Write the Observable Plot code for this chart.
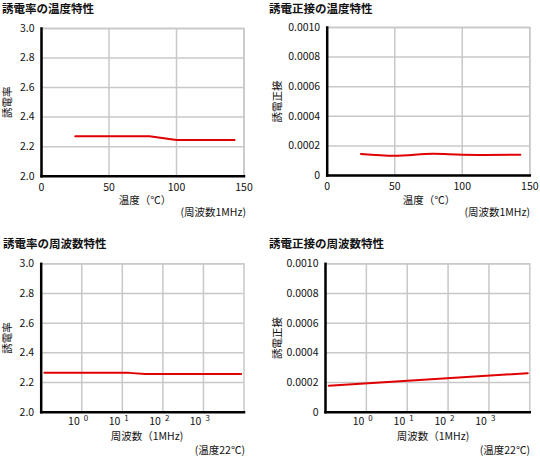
<!DOCTYPE html>
<html><head><meta charset="utf-8">
<script src="https://cdn.jsdelivr.net/npm/d3@7"></script>
<script src="https://cdn.jsdelivr.net/npm/@observablehq/plot@0.6"></script>
<style>
html,body{margin:0;padding:0;background:#fff;}
#root{position:relative;width:540px;height:457px;font-family:"Noto Sans CJK JP","DejaVu Sans",sans-serif;color:#111;}
.t{position:absolute;white-space:nowrap;line-height:1;}
.title{font-weight:bold;font-size:11.5px;}
.lab{font-size:10.5px;}
.panel{position:absolute;}
</style></head>
<body><div id="root"></div>
<script>
// ---- data ----
const titles = ["誘電率の温度特性", "誘電正接の温度特性", "誘電率の周波数特性", "誘電正接の周波数特性"];
const yLabelDk = "誘電率";
const yLabelDf = "誘電正接";
const xLabelTemp = "温度（℃）";
const xLabelFreq = "周波数（1MHz)";
const noteTemp = "(周波数1MHz)";
const noteFreq = "(温度22℃)";

const tempTicks = [0, 50, 100, 150];
const dkTicks = [2.0, 2.2, 2.4, 2.6, 2.8, 3.0];
const dfTicks = [0, 0.0002, 0.0004, 0.0006, 0.0008, 0.0010];
const freqTicks = [1, 10, 100, 1000];
const freqDomain = [0.1, 10000];

const tempDk = [25, 80, 100, 143];
const dkTemp = [2.27, 2.27, 2.245, 2.245];

const tempDf = [25, 50, 78, 100, 143];
const dfTemp = [0.000145, 0.000133, 0.000147, 0.00014, 0.00014];

const freqDk = [0.12, 14.5, 37, 8500];
const dkFreq = [2.265, 2.265, 2.258, 2.258];

const freqDf = [0.12, 8900];
const dfFreq = [0.000178, 0.000263];

// ---- drawing ----
const root = document.getElementById("root");
const FONT = "'Noto Sans CJK JP','DejaVu Sans',sans-serif";
const RED = "#e00000", GRID = "#c8c8c8";

function addText(txt, cls, left, top, align) {
  const d = document.createElement("div");
  d.className = "t " + cls;
  d.textContent = txt;
  d.style.top = top + "px";
  if (align === "right") d.style.right = (540 - left) + "px";
  else if (align === "center") { d.style.left = left + "px"; d.style.transform = "translateX(-50%)"; }
  else d.style.left = left + "px";
  root.appendChild(d);
}

function panel({left, top, margins, xs, ys, xOpt, yOpt, xTicks, yTicks, xFmt, yFmt, yLabel, curve, logX}) {
  const data = xs.map((x, i) => ({x, y: ys[i]}));
  const xAxisMarks = logX
    ? [
        Plot.text(xTicks, {x: d => d, frameAnchor: "bottom", text: () => "10", textAnchor: "end", dx: -2, dy: 13, fill: "#111"}),
        Plot.text(xTicks, {x: d => d, frameAnchor: "bottom", text: d => String(Math.round(Math.log10(d))), textAnchor: "start", dx: 2, dy: 9, fontSize: 8, fill: "#111"})
      ]
    : [Plot.axisX(xTicks, {tickSize: 0, tickPadding: 7, tickFormat: xFmt, label: null, fill: "#111"})];
  const p = Plot.plot({
    width: 270, height: 228,
    marginLeft: margins[0], marginRight: margins[1], marginTop: margins[2], marginBottom: margins[3],
    style: {fontFamily: FONT, fontSize: "10.5px", color: "#111", background: "none", overflow: "visible"},
    x: {...xOpt, axis: null}, y: yOpt,
    marks: [
      Plot.gridX(xTicks, {stroke: GRID, strokeOpacity: 1, strokeWidth: 1.5}),
      Plot.gridY(yTicks, {stroke: GRID, strokeOpacity: 1, strokeWidth: 1.5}),
      Plot.frame({stroke: GRID, strokeWidth: 1.5}),
      ...xAxisMarks,
      Plot.axisY(yTicks, {tickSize: 0, tickPadding: 7, tickFormat: yFmt, label: yLabel, labelAnchor: "center", labelArrow: "none", fill: "#111"}),
      Plot.line(data, {x: "x", y: "y", stroke: RED, strokeWidth: 2, curve}),
      Plot.frame({anchor: "left", stroke: "#000", strokeWidth: 2.5}),
      Plot.frame({anchor: "bottom", stroke: "#000", strokeWidth: 2.5})
    ]
  });
  p.classList.add("panel");
  p.style.left = left + "px";
  p.style.top = top + "px";
  root.appendChild(p);
}

const fmtDk = d => d.toFixed(1);
const fmtDf = d => d === 0 ? "0" : d.toFixed(4);

panel({left: 0, top: 0, margins: [41, 26.5, 28, 52.3], xs: tempDk, ys: dkTemp,
  xOpt: {domain: [0, 150]}, yOpt: {domain: [2, 3]}, xTicks: tempTicks, yTicks: dkTicks,
  xFmt: d => String(d), yFmt: fmtDk, yLabel: yLabelDk, curve: "linear"});
panel({left: 270, top: 0, margins: [56.7, 10.7, 27, 53], xs: tempDf, ys: dfTemp,
  xOpt: {domain: [0, 150]}, yOpt: {domain: [0, 0.001]}, xTicks: tempTicks, yTicks: dfTicks,
  xFmt: d => String(d), yFmt: fmtDf, yLabel: yLabelDf, curve: "catmull-rom"});
panel({left: 0, top: 235, margins: [40.7, 26.5, 28.3, 51.3], xs: freqDk, ys: dkFreq,
  xOpt: {type: "log", domain: freqDomain}, yOpt: {domain: [2, 3]}, xTicks: freqTicks, yTicks: dkTicks,
  yFmt: fmtDk, yLabel: yLabelDk, curve: "linear", logX: true});
panel({left: 270, top: 235, margins: [55, 10.7, 28.3, 51.3], xs: freqDf, ys: dfFreq,
  xOpt: {type: "log", domain: freqDomain}, yOpt: {domain: [0, 0.001]}, xTicks: freqTicks, yTicks: dfTicks,
  yFmt: fmtDf, yLabel: yLabelDf, curve: "linear", logX: true});

// titles and axis captions
addText(titles[0], "title", 2, 3);
addText(titles[1], "title", 269, 3);
addText(titles[2], "title", 3, 238);
addText(titles[3], "title", 269, 238);
addText(xLabelTemp, "lab", 145, 195, "center");
addText(noteTemp, "lab", 246, 207, "right");
addText(xLabelTemp, "lab", 429, 195, "center");
addText(noteTemp, "lab", 530, 207, "right");
addText(xLabelFreq, "lab", 147, 431, "center");
addText(noteFreq, "lab", 245, 445, "right");
addText(xLabelFreq, "lab", 433, 431, "center");
addText(noteFreq, "lab", 530, 445, "right");
</script></body></html>
